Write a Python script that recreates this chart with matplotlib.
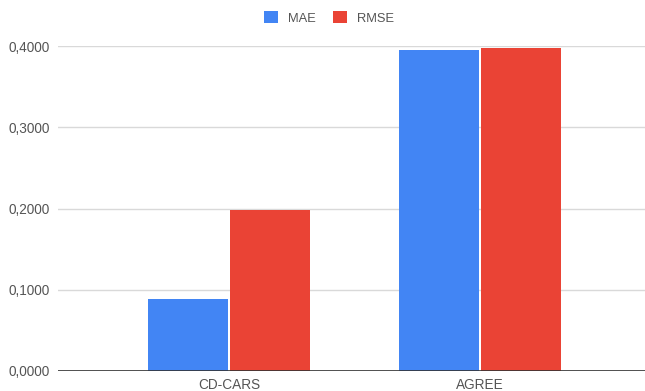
import matplotlib.pyplot as plt
from matplotlib.ticker import FuncFormatter
import numpy as np

# Data
categories = ["CD-CARS", "AGREE"]
mae = [0.089, 0.395]
rmse = [0.198, 0.398]

blue = "#4285F4"
red = "#EA4335"

plt.rcParams["font.family"] = ["Liberation Sans", "DejaVu Sans"]

fig = plt.figure(figsize=(6.45, 3.91), dpi=100)
ax = fig.add_axes([58 / 645, 20 / 391, 1 - 58 / 645, 325 / 391])

x = np.arange(len(categories))
w = 0.318
ax.bar(x - w / 2 - 0.005, mae, w, color=blue, label="MAE", zorder=3)
ax.bar(x + w / 2 + 0.005, rmse, w, color=red, label="RMSE", zorder=3)

ax.set_xlim(-0.681, 1.657)
ax.set_ylim(0, 0.4)
ax.set_yticks([0, 0.1, 0.2, 0.3, 0.4])
ax.yaxis.set_major_formatter(FuncFormatter(lambda v, p: f"{v:.4f}".replace(".", ",")))
ax.set_xticks(x)
ax.set_xticklabels(categories)

ax.grid(axis="y", color="#d9d9d9", linewidth=1, zorder=0)
ax.axhline(0, color="#333333", linewidth=1.2, zorder=4)
for s in ax.spines.values():
    s.set_visible(False)
ax.tick_params(axis="both", length=0, labelsize=9.8, labelcolor="#555555")
ax.tick_params(axis="y", pad=6)
ax.tick_params(axis="x", pad=5)

fig.legend(loc="center", bbox_to_anchor=(329 / 645, 1 - 18 / 391), ncol=2,
           frameon=False, fontsize=9.3, handlelength=1.05, handleheight=1.0,
           columnspacing=1.4, handletextpad=0.75, labelcolor="#555555")

fig.savefig("out.png", dpi=100)
